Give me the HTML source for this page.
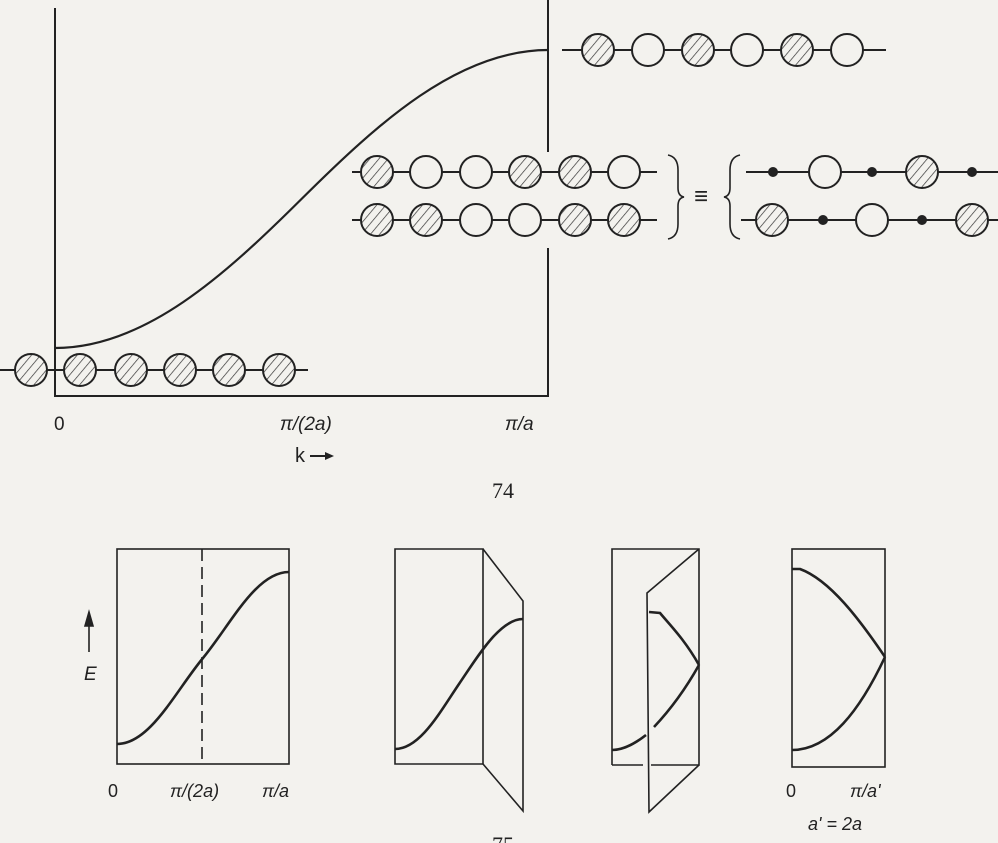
<!DOCTYPE html>
<html><head><meta charset="utf-8"><style>
html,body{margin:0;padding:0;background:#f3f2ee;}
svg{display:block;}
text{font-family:"Liberation Sans",sans-serif;fill:#222;}
</style></head><body>
<svg width="998" height="843" viewBox="0 0 998 843" xmlns="http://www.w3.org/2000/svg">
<defs>
<pattern id="h" patternUnits="userSpaceOnUse" width="7" height="7" patternTransform="rotate(40)">
<rect width="7" height="7" fill="#f3f2ee"/><line x1="0" y1="0" x2="0" y2="7" stroke="#333" stroke-width="1.4"/>
</pattern>
</defs>
<g stroke="#222" fill="none" stroke-width="2">
<path d="M55,8 L55,396 L548,396 L548,248"/>
<path d="M548,0 L548,152"/>
<path d="M55,348 C145,348 225,275 301.5,199 S458,50 548,50" stroke-width="2.2"/>
<line x1="0" y1="370" x2="308" y2="370"/>
<line x1="562" y1="50" x2="886" y2="50"/>
<line x1="352" y1="172" x2="657" y2="172"/>
<line x1="352" y1="220" x2="657" y2="220"/>
<line x1="746" y1="172" x2="998" y2="172"/>
<line x1="741" y1="220" x2="998" y2="220"/>
</g>
<g stroke="#222" stroke-width="2">
<circle cx="31" cy="370" r="16" fill="url(#h)"/>
<circle cx="80" cy="370" r="16" fill="url(#h)"/>
<circle cx="131" cy="370" r="16" fill="url(#h)"/>
<circle cx="180" cy="370" r="16" fill="url(#h)"/>
<circle cx="229" cy="370" r="16" fill="url(#h)"/>
<circle cx="279" cy="370" r="16" fill="url(#h)"/>
<circle cx="598" cy="50" r="16" fill="url(#h)"/>
<circle cx="648" cy="50" r="16" fill="#f3f2ee"/>
<circle cx="698" cy="50" r="16" fill="url(#h)"/>
<circle cx="747" cy="50" r="16" fill="#f3f2ee"/>
<circle cx="797" cy="50" r="16" fill="url(#h)"/>
<circle cx="847" cy="50" r="16" fill="#f3f2ee"/>
<circle cx="377" cy="172" r="16" fill="url(#h)"/>
<circle cx="426" cy="172" r="16" fill="#f3f2ee"/>
<circle cx="476" cy="172" r="16" fill="#f3f2ee"/>
<circle cx="525" cy="172" r="16" fill="url(#h)"/>
<circle cx="575" cy="172" r="16" fill="url(#h)"/>
<circle cx="624" cy="172" r="16" fill="#f3f2ee"/>
<circle cx="377" cy="220" r="16" fill="url(#h)"/>
<circle cx="426" cy="220" r="16" fill="url(#h)"/>
<circle cx="476" cy="220" r="16" fill="#f3f2ee"/>
<circle cx="525" cy="220" r="16" fill="#f3f2ee"/>
<circle cx="575" cy="220" r="16" fill="url(#h)"/>
<circle cx="624" cy="220" r="16" fill="url(#h)"/>
<circle cx="773" cy="172" r="4" fill="#222"/>
<circle cx="825" cy="172" r="16" fill="#f3f2ee"/>
<circle cx="872" cy="172" r="4" fill="#222"/>
<circle cx="922" cy="172" r="16" fill="url(#h)"/>
<circle cx="972" cy="172" r="4" fill="#222"/>
<circle cx="772" cy="220" r="16" fill="url(#h)"/>
<circle cx="823" cy="220" r="4" fill="#222"/>
<circle cx="872" cy="220" r="16" fill="#f3f2ee"/>
<circle cx="922" cy="220" r="4" fill="#222"/>
<circle cx="972" cy="220" r="16" fill="url(#h)"/>
</g>
<g stroke="#222" fill="none" stroke-width="1.6">
<path d="M668,155 Q678,157 678,170 L678,188 Q678,196 684,197 Q678,198 678,206 L678,224 Q678,237 668,239"/>
<path d="M740,155 Q730,157 730,170 L730,188 Q730,196 724,197 Q730,198 730,206 L730,224 Q730,237 740,239"/>
</g>
<text x="694" y="204" font-size="24">≡</text>
<text x="54" y="430" font-size="19">0</text>
<text x="280" y="430" font-size="19" font-style="italic">π/(2a)</text>
<text x="505" y="430" font-size="19" font-style="italic">π/a</text>
<text x="295" y="462" font-size="20">k</text>
<path d="M310,456 L328,456" stroke="#222" stroke-width="2"/>
<path d="M334,456 L325,452 L325,460 Z" fill="#222"/>
<text x="492" y="498" font-size="22" style="font-family:'Liberation Serif',serif">74</text>

<g stroke="#222" fill="none" stroke-width="1.6">
<rect x="117" y="549" width="172" height="215"/>
<line x1="202" y1="549" x2="202" y2="764" stroke-dasharray="12,6"/>
<path d="M117,744 C150,744 175,692 203,658 S256,572 289,572" stroke-width="2.6"/>
<line x1="89" y1="652" x2="89" y2="620"/>
<path d="M89,612 L85,626 L93,626 Z" fill="#222"/>

<path d="M395,549 L483,549 L483,764 L395,764 Z"/>
<path d="M483,549 L523,601 L523,811 L483,764"/>
<path d="M395,749 C420,749 440,712 459,684 S500,619 523,619" stroke-width="2.6"/>

<path d="M612,765 L612,549 L699,549 L699,765 L651,765 M643,765 L612,765"/>
<path d="M699,549 L647,593 L649,812 L699,765"/>
<path d="M612,750 C625,750 637,742 646,735" stroke-width="2.6"/>
<path d="M654,727 C670,710 685,690 699,665" stroke-width="2.6"/>
<path d="M649,612 L660,613 C670,625 685,640 699,665" stroke-width="2.6"/>

<rect x="792" y="549" width="93" height="218"/>
<path d="M792,569 L800,569 C830,580 860,620 885,657" stroke-width="2.6"/>
<path d="M792,750 C830,750 860,710 885,657" stroke-width="2.6"/>
</g>
<text x="84" y="680" font-size="19" font-style="italic">E</text>
<text x="108" y="797" font-size="18">0</text>
<text x="170" y="797" font-size="18" font-style="italic">π/(2a)</text>
<text x="262" y="797" font-size="18" font-style="italic">π/a</text>
<text x="786" y="797" font-size="18">0</text>
<text x="850" y="797" font-size="18" font-style="italic">π/a'</text>
<text x="808" y="830" font-size="18" font-style="italic">a' = 2a</text>
<text x="492" y="852" font-size="22" style="font-family:'Liberation Serif',serif">75</text>
</svg>
</body></html>
